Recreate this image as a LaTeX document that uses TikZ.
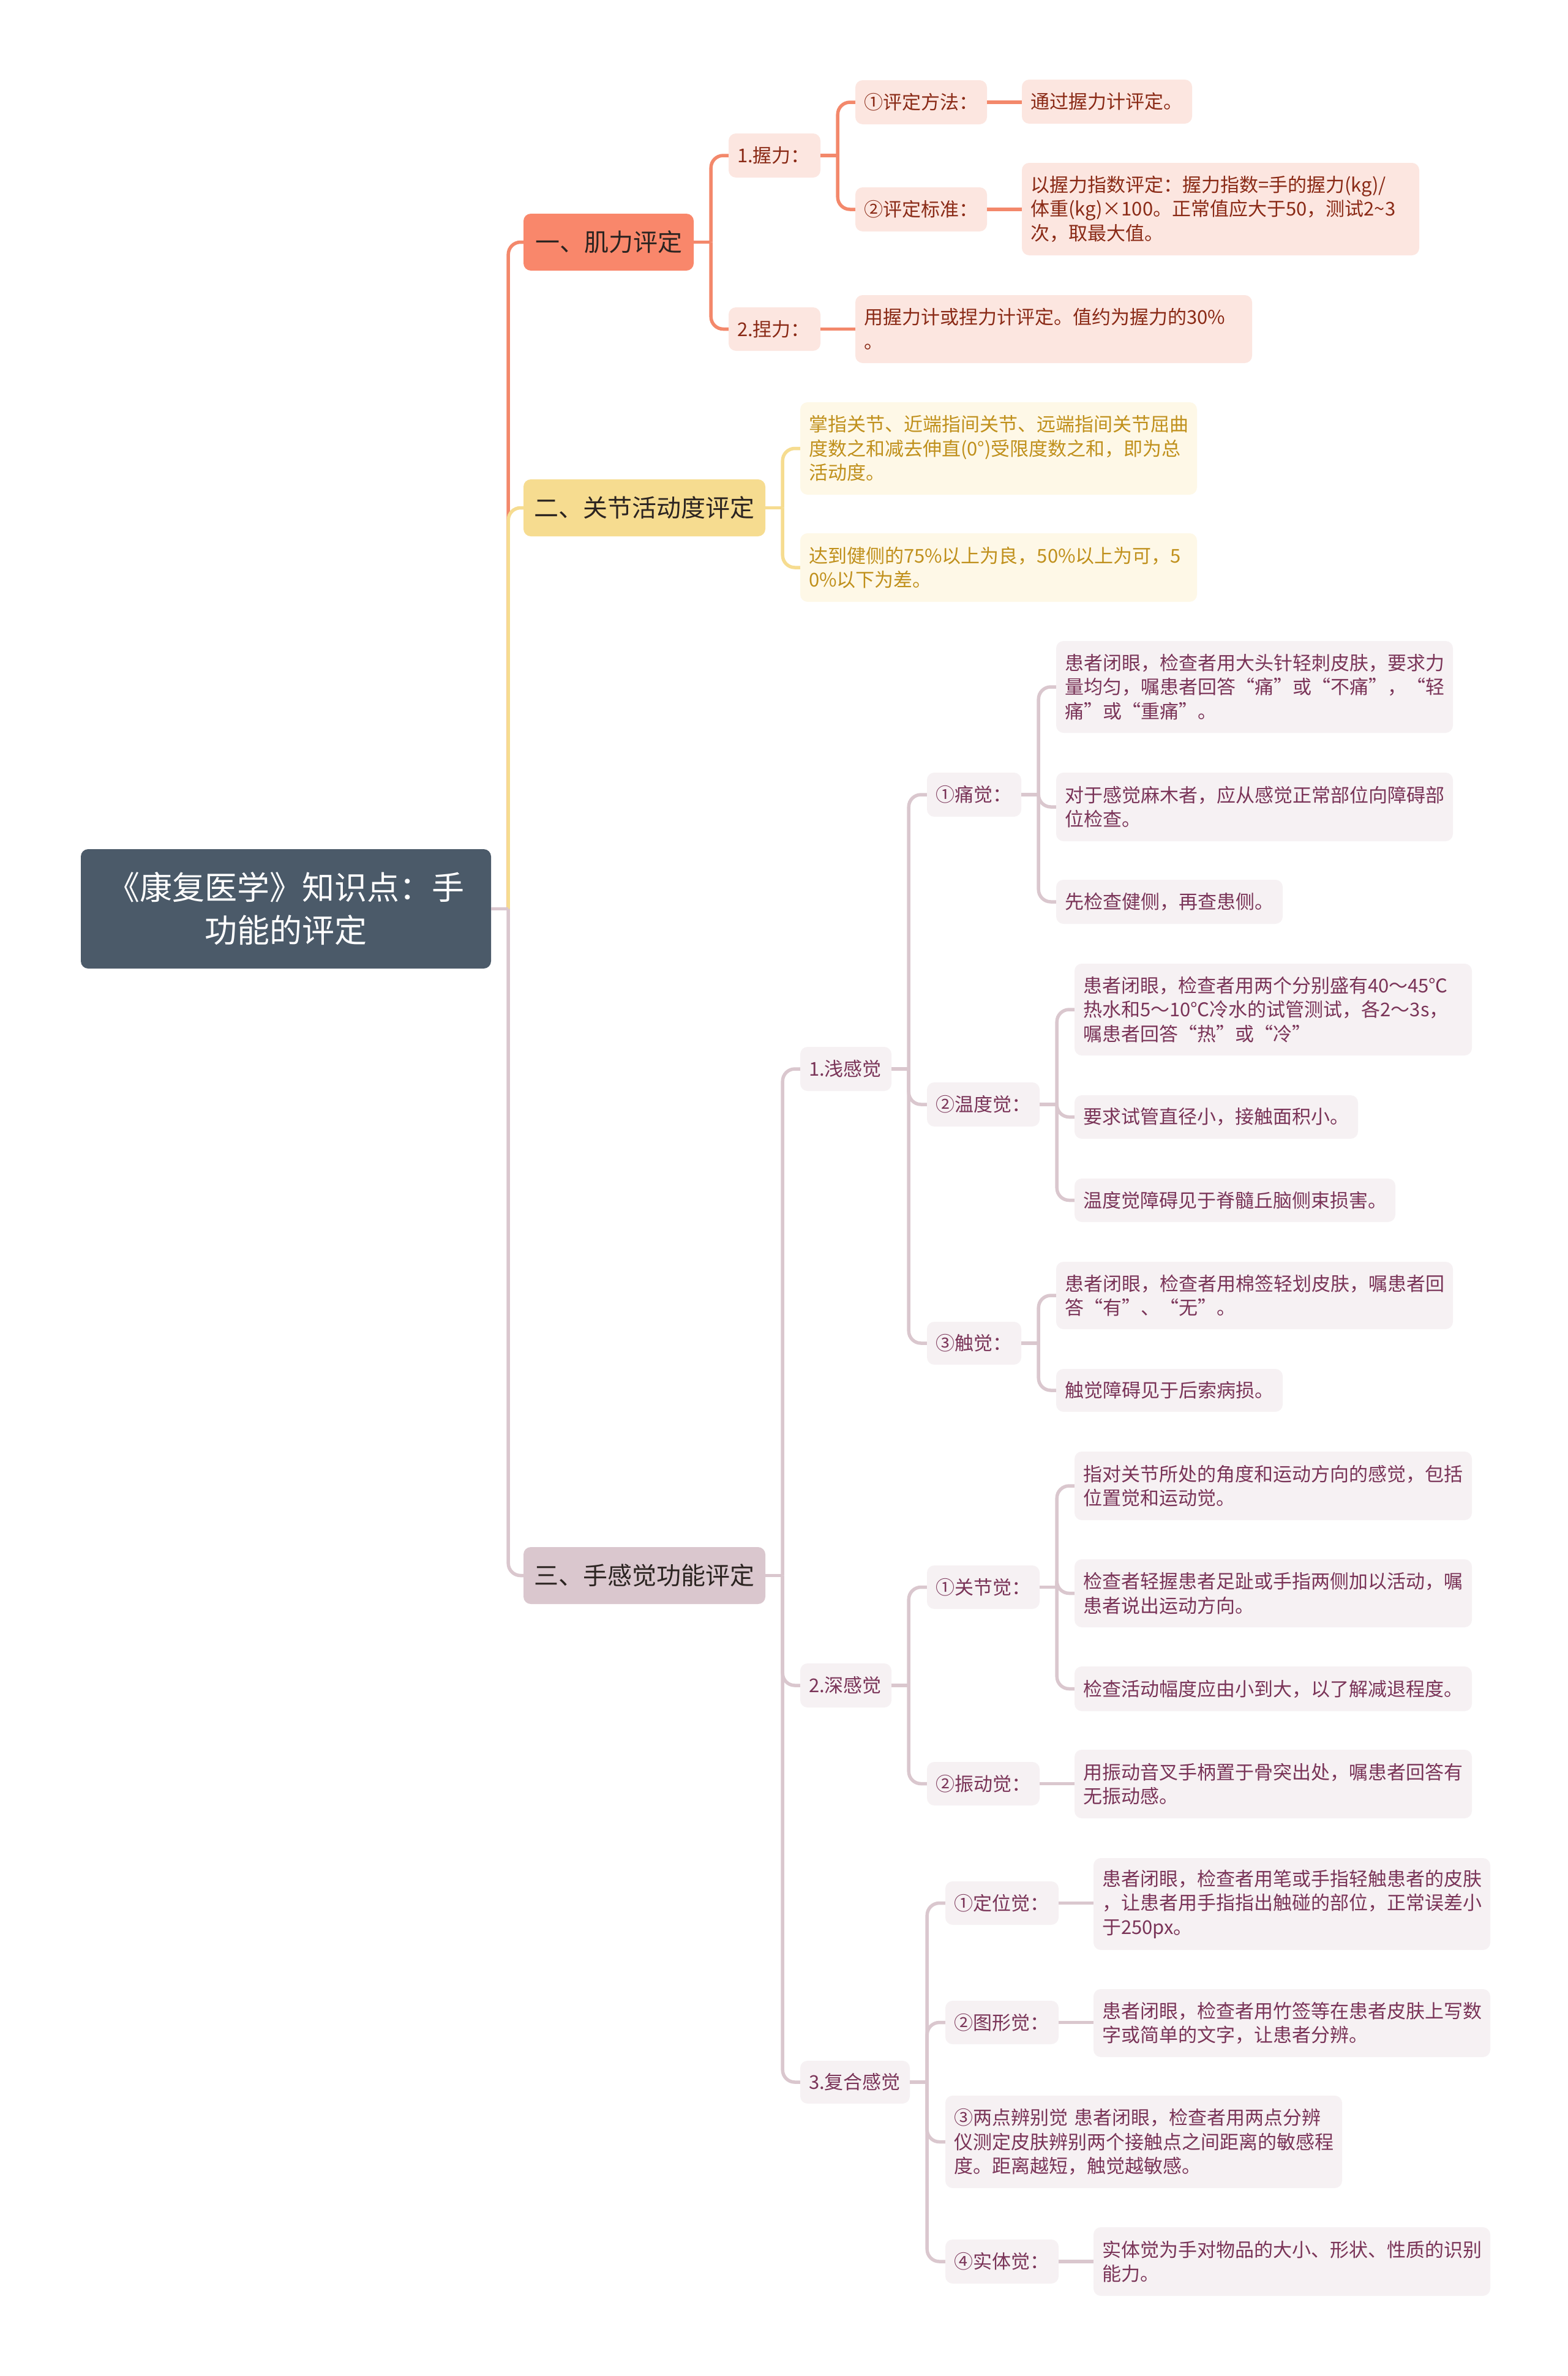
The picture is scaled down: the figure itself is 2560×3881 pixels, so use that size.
\documentclass[tikz,border=0pt]{standalone}
\usepackage{fontspec}
\setmainfont{Noto Sans CJK SC}
\definecolor{rootc}{HTML}{4B5A69}
\definecolor{orF}{HTML}{F9876B}
\definecolor{orL}{HTML}{F3886B}
\definecolor{orLeaf}{HTML}{FCE6E0}
\definecolor{orT}{HTML}{8A2A16}
\definecolor{yeF}{HTML}{F6DC90}
\definecolor{yeLeaf}{HTML}{FEF8E7}
\definecolor{yeT}{HTML}{C0901C}
\definecolor{maF}{HTML}{DAC7CE}
\definecolor{maLeaf}{HTML}{F6F1F3}
\definecolor{maT}{HTML}{7A3458}
\definecolor{darkT}{HTML}{2B2421}
\tikzset{
  base/.style={rounded corners=12pt, inner xsep=14pt, inner ysep=0pt, align=left,
    font=\fontsize{31}{39.5}\selectfont},
  rootbox/.style={base, fill=rootc, text=white, align=center, font=\fontsize{53}{70}\selectfont},
  topbox/.style={base, fill=#1, text=darkT, align=center, font=\fontsize{40}{50}\selectfont},
  orbox/.style={base, fill=orLeaf, text=orT},
  yebox/.style={base, fill=yeLeaf, text=yeT},
  mabox/.style={base, fill=maLeaf, text=maT},
  lnor/.style={draw=orL, line width=5.5pt},
  lnye/.style={draw=yeF, line width=5.5pt},
  lnma/.style={draw=maF, line width=5.5pt},
  rc/.style={rounded corners=20pt}
}
\newcommand\bx[7]{%
  \pgfmathsetmacro\bxw{#5-#3}%
  \pgfmathsetmacro\bxh{#6-#4}%
  \pgfmathsetmacro\bxt{#5-#3-28}%
  \pgfmathsetmacro\bxcx{(#3+#5)/2}%
  \pgfmathsetmacro\bxcy{(#4+#6)/2}%
  \node[#2, minimum width=\bxw pt, minimum height=\bxh pt, text width=\bxt pt] (#1) at (\bxcx,\bxcy) {#7};}
\begin{document}
\begin{tikzpicture}[x=1pt,y=-1pt]
\fill[white] (0,0) rectangle (2560,3881);
\useasboundingbox (0,0) rectangle (2560,3881);

% root and first level
\bx{root}{rootbox}{132}{1387}{802}{1582}{《康复医学》知识点：手\\功能的评定}
\bx{n1}{topbox=orF}{855}{349}{1133}{442}{一、肌力评定}
\bx{n2}{topbox=yeF}{855}{783}{1250}{876}{二、关节活动度评定}
\bx{n3}{topbox=maF}{855}{2527}{1250}{2620}{三、手感觉功能评定}

% branch 1
\bx{a1}{orbox}{1190}{218}{1340}{290}{1.握力：}
\bx{a2}{orbox}{1190}{502}{1340}{573}{2.捏力：}
\bx{a11}{orbox}{1397}{131}{1612}{203}{①评定方法：}
\bx{a12}{orbox}{1397}{306}{1612}{378}{②评定标准：}
\bx{b11}{orbox}{1669}{130}{1947}{202}{通过握力计评定。}
\bx{b12}{orbox}{1669}{266}{2318}{417}{以握力指数评定：握力指数=手的握力(kg)/\\体重(kg)×100。正常值应大于50，测试2{\textasciitilde}3\\次，取最大值。}
\bx{b2}{orbox}{1397}{482}{2045}{593}{用握力计或捏力计评定。值约为握力的30\%\\。}

% branch 2
\bx{r1}{yebox}{1307}{657}{1955}{808}{掌指关节、近端指间关节、远端指间关节屈曲\\度数之和减去伸直(0°)受限度数之和，即为总\\活动度。}
\bx{r2}{yebox}{1307}{871}{1955}{983}{达到健侧的75\%以上为良，50\%以上为可，5\\0\%以下为差。}

% branch 3, level 2
\bx{s1}{mabox}{1307}{1710}{1456}{1782}{1.浅感觉}
\bx{s2}{mabox}{1307}{2717}{1456}{2789}{2.深感觉}
\bx{s3}{mabox}{1307}{3366}{1486}{3436}{3.复合感觉}

% level 3
\bx{p}{mabox}{1514}{1262}{1668}{1334}{①痛觉：}
\bx{t}{mabox}{1514}{1768}{1698}{1840}{②温度觉：}
\bx{c}{mabox}{1514}{2159}{1668}{2229}{③触觉：}
\bx{j}{mabox}{1514}{2557}{1698}{2628}{①关节觉：}
\bx{v}{mabox}{1514}{2878}{1698}{2949}{②振动觉：}
\bx{d}{mabox}{1544}{3073}{1729}{3144}{①定位觉：}
\bx{g}{mabox}{1544}{3268}{1729}{3339}{②图形觉：}
\bx{e}{mabox}{1544}{3423}{2192}{3574}{③两点辨别觉 患者闭眼，检查者用两点分辨\\仪测定皮肤辨别两个接触点之间距离的敏感程\\度。距离越短，触觉越敏感。}
\bx{k}{mabox}{1544}{3658}{1729}{3730}{④实体觉：}

% leaves
\bx{p1}{mabox}{1725}{1047}{2373}{1197}{患者闭眼，检查者用大头针轻刺皮肤，要求力\\量均匀，嘱患者回答“痛”或“不痛”，“轻\\痛”或“重痛”。}
\bx{p2}{mabox}{1725}{1262}{2373}{1374}{对于感觉麻木者，应从感觉正常部位向障碍部\\位检查。}
\bx{p3}{mabox}{1725}{1437}{2095}{1509}{先检查健侧，再查患侧。}
\bx{t1}{mabox}{1755}{1574}{2404}{1724}{患者闭眼，检查者用两个分别盛有40～45℃\\热水和5～10℃冷水的试管测试，各2～3s，\\嘱患者回答“热”或“冷”}
\bx{t2}{mabox}{1755}{1789}{2218}{1860}{要求试管直径小，接触面积小。}
\bx{t3}{mabox}{1755}{1925}{2279}{1996}{温度觉障碍见于脊髓丘脑侧束损害。}
\bx{c1}{mabox}{1725}{2061}{2373}{2171}{患者闭眼，检查者用棉签轻划皮肤，嘱患者回\\答“有”、“无”。}
\bx{c2}{mabox}{1725}{2236}{2095}{2306}{触觉障碍见于后索病损。}
\bx{j1}{mabox}{1755}{2371}{2404}{2483}{指对关节所处的角度和运动方向的感觉，包括\\位置觉和运动觉。}
\bx{j2}{mabox}{1755}{2547}{2404}{2658}{检查者轻握患者足趾或手指两侧加以活动，嘱\\患者说出运动方向。}
\bx{j3}{mabox}{1755}{2722}{2404}{2795}{检查活动幅度应由小到大，以了解减退程度。}
\bx{v1}{mabox}{1755}{2858}{2404}{2970}{用振动音叉手柄置于骨突出处，嘱患者回答有\\无振动感。}
\bx{d1}{mabox}{1786}{3035}{2434}{3185}{患者闭眼，检查者用笔或手指轻触患者的皮肤\\，让患者用手指指出触碰的部位，正常误差小\\于250px。}
\bx{g1}{mabox}{1786}{3249}{2434}{3360}{患者闭眼，检查者用竹签等在患者皮肤上写数\\字或简单的文字，让患者分辨。}
\bx{k1}{mabox}{1786}{3638}{2434}{3750}{实体觉为手对物品的大小、形状、性质的识别\\能力。}

% connectors: root
\path (root.east) -- ++(28,0) coordinate (jr);
\draw[lnor,rc] (jr) |- (n1.west);
\draw[lnye,rc] (jr) |- (n2.west);
\draw[lnma,rc] (jr) |- (n3.west);
\draw[lnma] (root.east) -- (jr);

% branch 1
\draw[lnor] (n1.east) -- ++(28,0) coordinate (jn1);
\draw[lnor,rc] (jn1) |- (a1.west);
\draw[lnor,rc] (jn1) |- (a2.west);
\draw[lnor] (a1.east) -- ++(28,0) coordinate (ja1);
\draw[lnor,rc] (ja1) |- (a11.west);
\draw[lnor,rc] (ja1) |- (a12.west);
\draw[lnor] (a11.east) -- (a11.east -| b11.west);
\draw[lnor] (a12.east) -- (a12.east -| b12.west);
\draw[lnor] (a2.east) -- (a2.east -| b2.west);

% branch 2
\draw[lnye] (n2.east) -- ++(28,0) coordinate (jn2);
\draw[lnye,rc] (jn2) |- (r1.west);
\draw[lnye,rc] (jn2) |- (r2.west);

% branch 3
\draw[lnma] (n3.east) -- ++(28,0) coordinate (jn3);
\draw[lnma,rc] (jn3) |- (s1.west);
\draw[lnma,rc] (jn3) |- (s2.west);
\draw[lnma,rc] (jn3) |- (s3.west);

\draw[lnma] (s1.east) -- ++(28,0) coordinate (js1);
\draw[lnma,rc] (js1) |- (p.west);
\draw[lnma,rc] (js1) |- (t.west);
\draw[lnma,rc] (js1) |- (c.west);

\draw[lnma] (p.east) -- ++(28,0) coordinate (jp);
\draw[lnma,rc] (jp) |- (p1.west);
\draw[lnma,rc] (jp) |- (p2.west);
\draw[lnma,rc] (jp) |- (p3.west);

\draw[lnma] (t.east) -- ++(28,0) coordinate (jt);
\draw[lnma,rc] (jt) |- (t1.west);
\draw[lnma,rc] (jt) |- (t2.west);
\draw[lnma,rc] (jt) |- (t3.west);

\draw[lnma] (c.east) -- ++(28,0) coordinate (jc);
\draw[lnma,rc] (jc) |- (c1.west);
\draw[lnma,rc] (jc) |- (c2.west);

\draw[lnma] (s2.east) -- ++(28,0) coordinate (js2);
\draw[lnma,rc] (js2) |- (j.west);
\draw[lnma,rc] (js2) |- (v.west);

\draw[lnma] (j.east) -- ++(28,0) coordinate (jj);
\draw[lnma,rc] (jj) |- (j1.west);
\draw[lnma,rc] (jj) |- (j2.west);
\draw[lnma,rc] (jj) |- (j3.west);
\draw[lnma] (v.east) -- (v.east -| v1.west);

\draw[lnma] (s3.east) -- ++(28,0) coordinate (js3);
\draw[lnma,rc] (js3) |- (d.west);
\draw[lnma,rc] (js3) |- (g.west);
\draw[lnma,rc] (js3) |- (e.west);
\draw[lnma,rc] (js3) |- (k.west);
\draw[lnma] (d.east) -- (d.east -| d1.west);
\draw[lnma] (g.east) -- (g.east -| g1.west);
\draw[lnma] (k.east) -- (k.east -| k1.west);
\end{tikzpicture}
\end{document}
